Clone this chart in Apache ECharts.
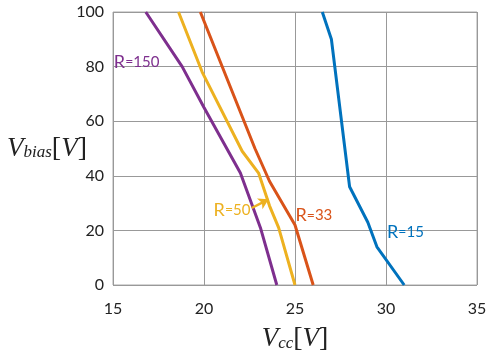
<!DOCTYPE html>
<html><head><meta charset="utf-8">
<script src="https://cdn.jsdelivr.net/npm/echarts@6/dist/echarts.min.js"></script>
<style>html,body{margin:0;padding:0;background:#fff}#c{width:487px;height:354px}</style>
</head><body><div id="c"></div>
<script>
const xTicks = [15, 20, 25, 30, 35];
const yTicks = [0, 20, 40, 60, 80, 100];
const r15 = [[26.5,100],[27,90],[28,36],[29,23],[29.5,14],[31,0]];
const r33 = [[19.8,100],[22.8,50],[23.6,38],[25,22],[26,0]];
const r50 = [[18.6,100],[19.9,78],[22.1,49],[23,41],[23.6,29],[24.1,21],[25,0]];
const r150 = [[16.8,100],[18.8,80],[20,65],[22,41],[23.1,21],[24,0]];
const labelNames = ['R=15','R=33','R=50','R=150'];
const labelPos = [[30.03,19.5],[25.0,25.5],[20.5,27.5],[15.02,81.7]];
const arrow50 = [[22.62,28.2],[23.55,31.4]];
const colors = ['#0072BD','#D95319','#EDB120','#7E2F8E'];

const chart = echarts.init(document.getElementById('c'), null, {renderer:'canvas'});
const datas = [r15, r33, r50, r150];
function lbl(i){
  const m = labelNames[i].match(/^(R)(=)(\d+)$/);
  return {
    symbol:'circle', symbolSize:1, silent:true,
    itemStyle:{color:'rgba(0,0,0,0)'},
    label:{show:true, position:'right', distance:0,
        formatter:'{a|R}{b|=}{c|'+m[3]+'}',
        rich:{
          a:{fontFamily:'Lato', fontSize:18, color:colors[i]},
          b:{fontFamily:'Lato', fontSize:14, color:colors[i]},
          c:{fontFamily:'Lato', fontSize:15, color:colors[i]}
        }},
    data:[{coord:labelPos[i], value:labelNames[i]}]
  };
}
const series = datas.map((d,i)=>{
  const s = {type:'line', data:d, showSymbol:false, symbol:'none', lineStyle:{color:colors[i], width:3}, itemStyle:{color:colors[i]}, z:3, markPoint: lbl(i)};
  if(i===2){
    s.markLine = {silent:true, symbol:['none','arrow'], symbolSize:[9,10],
      lineStyle:{color:colors[2], width:2.5, type:'solid'}, label:{show:false},
      data:[[{coord:arrow50[0]},{coord:arrow50[1]}]]};
  }
  return s;
});
const titleRich = {
  v:{fontFamily:'Liberation Serif', fontStyle:'italic', fontSize:27, color:'#222'},
  s:{fontFamily:'Liberation Serif', fontStyle:'italic', fontSize:17, color:'#222', padding:[9,0,0,0]},
  b:{fontFamily:'Liberation Serif', fontSize:28, color:'#222'}
};
chart.setOption({
  animation:false,
  backgroundColor:'#fff',
  grid:{left:113, right:10, top:12, bottom:69, outerBoundsMode:'none', containLabel:false, show:true, borderColor:'#aaa', borderWidth:1},
  xAxis:{type:'value', min:xTicks[0], max:xTicks[xTicks.length-1], interval:5,
    axisLine:{show:false}, axisTick:{show:false},
    splitLine:{show:true, lineStyle:{color:'#999', width:1}},
    axisLabel:{color:'#222', fontSize:16, fontFamily:'Lato', margin:16},
    name:'{v|V}{s|cc}{b|[}{v|V}{b|]}', nameLocation:'middle', nameGap:40, nameMoveOverlap:false,
    nameTextStyle:{rich:titleRich}
  },
  yAxis:{type:'value', min:yTicks[0], max:yTicks[yTicks.length-1], interval:20,
    axisLine:{show:false}, axisTick:{show:false},
    splitLine:{show:true, lineStyle:{color:'#999', width:1}},
    axisLabel:{color:'#222', fontSize:16, fontFamily:'Lato', margin:9},
    name:'{v|V}{s|bias}{b|[}{v|V}{b|]}', nameLocation:'middle', nameGap:26, nameRotate:0, nameMoveOverlap:false,
    nameTextStyle:{align:'right', rich:titleRich}
  },
  series: series
});
</script></body></html>
